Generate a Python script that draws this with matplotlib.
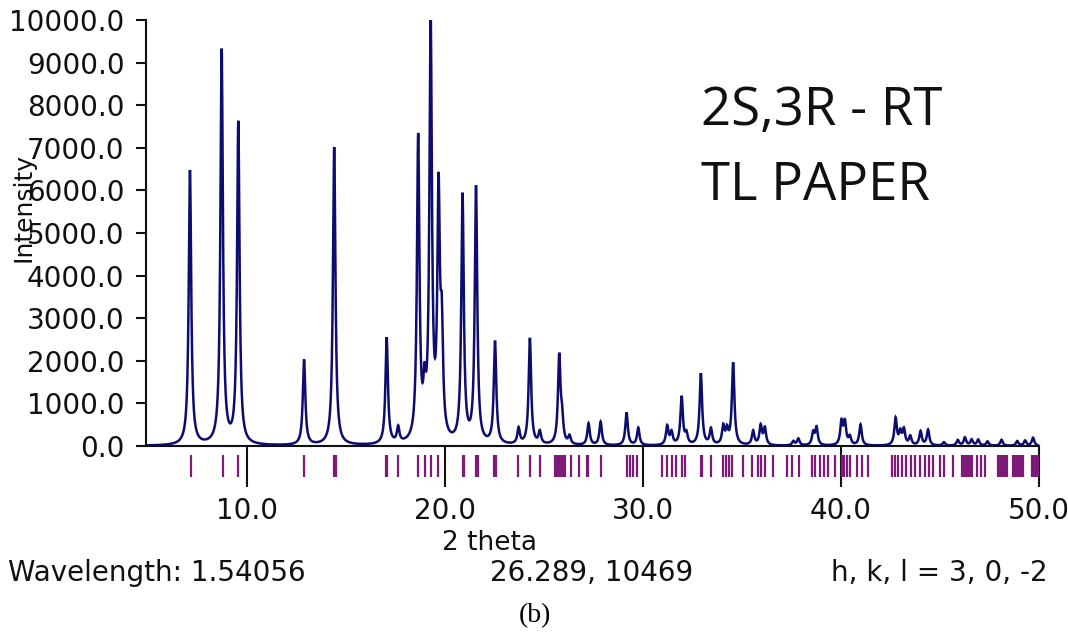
import numpy as np
import matplotlib
matplotlib.use("Agg")
import matplotlib.pyplot as plt
import matplotlib.transforms as mtransforms
from matplotlib.patches import Rectangle

# ---- peak list (2theta, intensity) of the simulated powder pattern ----
peak_pos = [7.14, 8.74, 9.58, 12.90, 14.42, 17.07, 17.65, 18.66, 18.98, 19.29,
            19.69, 19.85, 20.90, 21.58, 22.54, 23.73, 24.30, 24.80, 25.78, 25.92,
            26.30, 27.26, 27.87, 29.18, 29.77, 31.23, 31.45, 31.96, 32.20, 32.93,
            33.44, 34.06, 34.25, 34.56, 35.57, 35.95, 36.16, 37.60, 37.85, 38.60,
            38.77, 40.03, 40.20, 40.45, 40.99, 42.76, 43.00, 43.18, 43.50, 44.02,
            44.40, 45.20, 45.90, 46.26, 46.60, 46.93, 47.40, 48.11, 48.90, 49.30,
            49.70]
peak_int = [6450, 9250, 7550, 2000, 7000, 2500, 360, 7100, 950, 9800,
            5600, 2300, 5800, 6000, 2400, 370, 2500, 290, 2050, 520,
            190, 510, 550, 770, 410, 440, 290, 1130, 240, 1680,
            370, 420, 320, 1920, 330, 450, 390, 100, 160, 290,
            410, 540, 520, 190, 490, 630, 290, 360, 210, 330,
            370, 80, 130, 190, 140, 140, 100, 140, 110, 120,
            190]
peak_fwhm = 0.15

# ---- calculated reflection positions (2theta) ----
refl_pos = [7.20, 8.79, 9.58, 12.90, 14.42, 14.50, 17.03, 17.10, 17.65, 18.66,
            19.00, 19.32, 19.67, 20.90, 20.97, 21.60, 21.67, 22.50, 22.57, 23.72,
            24.30, 24.80, 25.57, 25.65, 25.73, 25.81, 25.89, 25.97, 26.05, 26.35,
            26.79, 27.16, 27.24, 27.88, 29.18, 29.35, 29.52, 29.70, 30.95, 31.20,
            31.45, 31.70, 31.96, 32.15, 32.94, 33.01, 33.44, 34.06, 34.20, 34.33,
            34.48, 35.05, 35.49, 35.83, 35.98, 36.16, 36.58, 37.26, 37.51, 37.89,
            38.52, 38.71, 38.94, 39.14, 39.36, 39.70, 40.03, 40.10, 40.17, 40.30,
            40.45, 40.79, 41.04, 41.38, 42.56, 42.73, 42.89, 43.06, 43.31, 43.52,
            43.73, 43.98, 44.24, 44.46, 44.66, 45.00, 45.20, 45.67, 46.09, 46.17,
            46.25, 46.33, 46.42, 46.51, 46.60, 46.85, 47.05, 47.27, 47.95, 48.02,
            48.10, 48.16, 48.22, 48.29, 48.36, 48.70, 48.78, 48.85, 48.93, 49.00,
            49.10, 49.20, 49.63, 49.70, 49.80, 49.88, 49.96]

x_ticks = [10.0, 20.0, 30.0, 40.0, 50.0]
y_ticks = [0, 1000, 2000, 3000, 4000, 5000, 6000, 7000, 8000, 9000, 10000]

W, H = 1068, 637


def fx(px):
    return px / W


def fy(py):
    return 1 - py / H


fig = plt.figure(figsize=(W / 100, H / 100), dpi=100)
ax = fig.add_axes([fx(146), fy(446), fx(1039) - fx(146), fy(20) - fy(446)])

# Lorentzian profile summed over all reflections
tt = np.arange(4.92, 50.0, 0.01)
hw = peak_fwhm / 2
profile = np.zeros_like(tt)
for p, h in zip(peak_pos, peak_int):
    profile += h / (1 + ((tt - p) / hw) ** 2)

ax.plot(tt, profile, color="#0d0d70", lw=1.8, solid_joinstyle="miter")

ax.set_xlim(4.92, 50.0)
ax.set_ylim(0, 10000)

# reflection tick row under the baseline
trans = mtransforms.blended_transform_factory(ax.transData, ax.transAxes)
ax.vlines(refl_pos, -0.021, -0.073, transform=trans, color="#7d1a78",
          lw=1.6, clip_on=False)

for side in ("top", "right"):
    ax.spines[side].set_visible(False)
for side in ("left", "bottom"):
    ax.spines[side].set_linewidth(1.5)
    ax.spines[side].set_color("#111111")

ax.set_xticks(x_ticks)
ax.set_xticklabels([f"{v:.1f}" for v in x_ticks])
ax.set_yticks(y_ticks)
ax.set_yticklabels([f"{v:.1f}" for v in y_ticks])
ax.tick_params(axis="x", direction="out", length=29.5, width=1.5,
               pad=7, labelsize=20, colors="#111111")
ax.tick_params(axis="y", direction="out", length=7.5, width=1.5,
               pad=8, labelsize=20, colors="#111111")

# axis titles and status line
fig.text(fx(24), fy(207), "Intensity", rotation=90, ha="center",
         va="center", fontsize=18, color="#111111")
fig.text(fx(490), fy(543), "2 theta", ha="center", va="center",
         fontsize=19, color="#111111")
fig.patches.append(Rectangle((0, 0), 1, fy(553), transform=fig.transFigure,
                             facecolor="white", edgecolor="none", zorder=2))
status_kw = dict(va="center", fontsize=20, color="#111111", zorder=3)
fig.text(fx(8), fy(573), "Wavelength: 1.54056", ha="left", **status_kw)
fig.text(fx(490), fy(573), "26.289, 10469", ha="left", **status_kw)
fig.text(fx(1048), fy(573), "h, k, l = 3, 0, -2", ha="right", **status_kw)
fig.text(fx(535), fy(616), "(b)", ha="center", va="center", fontsize=20,
         family="Liberation Serif", color="black", zorder=3)

# sample annotation
ann_kw = dict(ha="left", va="baseline", fontsize=38, family="Open Sans",
              color="#111111")
ax.text(fx(701), fy(125), "2S,3R - RT", transform=fig.transFigure, **ann_kw)
ax.text(fx(701), fy(200), "TL PAPER", transform=fig.transFigure, **ann_kw)

fig.savefig("out.png", dpi=100)
